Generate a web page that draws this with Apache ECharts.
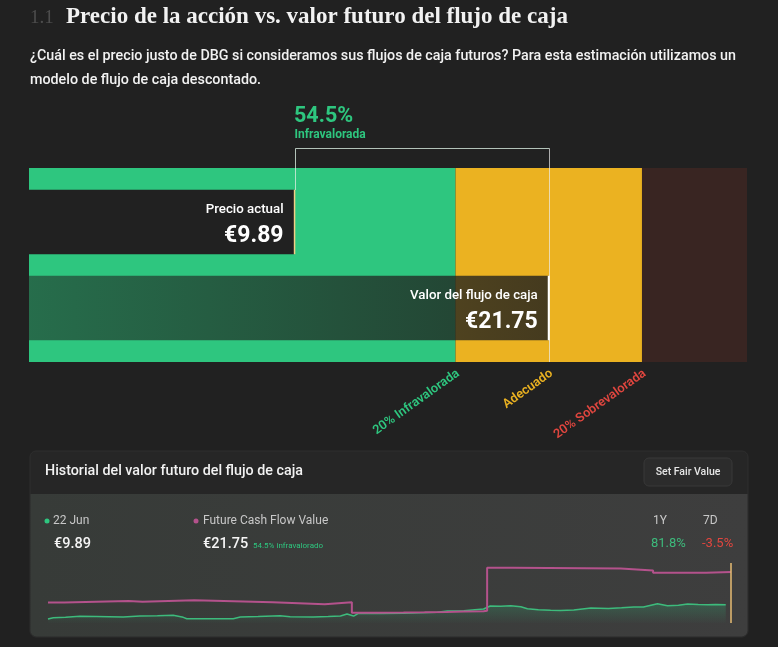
<!DOCTYPE html>
<html>
<head>
<meta charset="utf-8">
<script src="https://cdn.jsdelivr.net/npm/echarts@6/dist/echarts.min.js"></script>
<style>
html,body{margin:0;padding:0;background:#212121;}
#chart{width:778px;height:647px;}
</style>
</head>
<body>
<div id="chart"></div>
<script>
// ---- data ----
const categories = ['Precio actual', 'Valor del flujo de caja'];
const barValues = [9.89, 21.75];
const zoneBounds = [-2.5, 17.40, 26.10, 31.0];
const zoneEdges = [17.40, 21.75, 26.10];
const zoneLabels = ['20% Infravalorada', 'Adecuado', '20% Sobrevalorada'];
const discountPct = 54.5;
const return1Y = 81.8;
const return7D = -3.5;
const lastDate = '22 Jun';

const priceWeeks = [0, 1.2, 4, 7.3, 11, 14, 17.2, 21, 25, 28.6, 30.9, 31.7, 36, 42.3, 43.9, 48, 53, 55.3, 60.6, 64, 66.8, 68.3, 69.8, 70.9, 76, 81.2, 85, 88.9, 91.2, 95, 97.5, 99.5, 101, 103.4, 105.7, 108, 109.5, 112, 114.8, 117, 120.1, 124, 128, 131, 133.8, 136, 139.2, 141.5, 144, 146.1, 148.5, 150.7, 152.5, 154.8];
const priceValues = [4.65, 5.13, 5.35, 5.64, 5.55, 5.48, 5.38, 5.75, 5.85, 6.01, 5.27, 4.76, 4.80, 4.76, 5.38, 5.55, 5.86, 5.49, 5.38, 5.55, 5.75, 6.48, 5.75, 6.74, 6.70, 6.74, 6.95, 7.11, 7.58, 7.65, 8.05, 8.32, 9.45, 9.30, 9.52, 9.16, 8.43, 8.10, 7.84, 7.80, 7.95, 8.68, 8.55, 8.80, 9.05, 9.10, 10.26, 9.52, 9.70, 10.15, 9.95, 9.89, 10.00, 9.89];

const fcfWeeks = [0, 3.7, 18.4, 21.6, 33.4, 51.3, 63.2, 69.4, 75, 81.2, 86, 91, 95, 99.5, 100.3, 106.1, 130.8, 138.2, 150.3, 156];
const fcfValues = [10.70, 11.25, 10.99, 11.50, 10.77, 10.04, 10.77, 6.96, 7.02, 7.11, 7.25, 7.40, 7.55, 7.69, 23.44, 23.22, 22.49, 21.61, 21.87, 21.75];

// ---- colors ----
const GREEN = '#2ec67f';
const YELLOW = '#ebb221';
const BROWN = '#392522';
const RED = '#e0463f';
const PINK = '#b4528c';
const zoneColors = [GREEN, YELLOW, BROWN];
const labelColors = [GREEN, YELLOW, RED];
const SANS = 'Roboto, "Noto Sans", sans-serif';

const chart = echarts.init(document.getElementById('chart'), null, {renderer: 'canvas'});

const zoneData = zoneColors.map((c, i) => [zoneBounds[i], zoneBounds[i + 1], i]);
const barData = categories.map((c, i) => [barValues[i], i, c]);

const option = {
  backgroundColor: '#212121',
  animation: false,
  grid: [
    {left: 29, right: 31, top: 168, height: 194},
    {left: 29, right: 31, top: 179, height: 172},
    {left: 48, right: 47, top: 563, height: 60}
  ],
  xAxis: [
    {gridIndex: 0, type: 'value', min: zoneBounds[0], max: zoneBounds[3], show: false},
    {gridIndex: 1, type: 'value', min: zoneBounds[0], max: zoneBounds[3], show: false},
    {gridIndex: 2, type: 'value', min: 0, max: 156, show: false}
  ],
  yAxis: [
    {gridIndex: 0, type: 'value', min: 0, max: 1, show: false},
    {gridIndex: 1, type: 'category', data: categories, inverse: true, show: false},
    {gridIndex: 2, type: 'value', min: 3.2, max: 25.2, show: false}
  ],
  graphic: [
    // title
    {type: 'text', x: 30, y: 18, style: {text: '1.1', font: '19px "Liberation Serif", serif', fill: '#4d4d4d', verticalAlign: 'middle'}},
    {type: 'text', x: 66, y: 17, style: {text: 'Precio de la acción vs. valor futuro del flujo de caja', font: 'bold 23px "Liberation Serif", serif', fill: '#f2f2f2', verticalAlign: 'middle'}},
    {type: 'text', x: 30, y: 56, style: {text: '¿Cuál es el precio justo de DBG si consideramos sus flujos de caja futuros? Para esta estimación utilizamos un', font: '500 14.3px ' + SANS, fill: '#f2f2f2', verticalAlign: 'middle'}},
    {type: 'text', x: 30, y: 80, style: {text: 'modelo de flujo de caja descontado.', font: '500 14.3px ' + SANS, fill: '#f2f2f2', verticalAlign: 'middle'}},
    // panel
    {type: 'rect', shape: {x: 30, y: 451, width: 718, height: 186, r: 6}, style: {fill: '#262626', stroke: '#2e2e2e', lineWidth: 1}, z: -10},
    {type: 'rect', shape: {x: 30.5, y: 494, width: 717, height: 142.5, r: [0, 0, 6, 6]}, style: {fill: new echarts.graphic.LinearGradient(0, 0, 1, 0, [{offset: 0, color: '#373b38'}, {offset: 1, color: '#3e3e3e'}])}, z: -9},
    {type: 'text', x: 45, y: 471, style: {text: 'Historial del valor futuro del flujo de caja', font: '500 14.3px ' + SANS, fill: '#f2f2f2', verticalAlign: 'middle'}},
    {type: 'rect', shape: {x: 644, y: 458, width: 88, height: 28, r: 5}, style: {fill: '#2c2c2c', stroke: '#383838', lineWidth: 1}},
    {type: 'text', x: 688, y: 472, style: {text: 'Set Fair Value', font: '500 10.5px ' + SANS, fill: '#e6e6e6', align: 'center', verticalAlign: 'middle'}},
    // stats
    {type: 'circle', shape: {cx: 47, cy: 521, r: 2.5}, style: {fill: GREEN}},
    {type: 'text', x: 53, y: 521, style: {text: lastDate, font: '12px ' + SANS, fill: '#c8c8c8', verticalAlign: 'middle'}},
    {type: 'text', x: 54, y: 544, style: {text: '€' + barValues[0].toFixed(2), font: '500 14.5px ' + SANS, fill: '#f5f5f5', verticalAlign: 'middle'}},
    {type: 'circle', shape: {cx: 196, cy: 521, r: 2.5}, style: {fill: PINK}},
    {type: 'text', x: 203, y: 521, style: {text: 'Future Cash Flow Value', font: '12px ' + SANS, fill: '#c8c8c8', verticalAlign: 'middle'}},
    {type: 'text', x: 203, y: 544, style: {text: '€' + barValues[1].toFixed(2), font: '500 14.5px ' + SANS, fill: '#f5f5f5', verticalAlign: 'middle'}},
    {type: 'text', x: 253, y: 546, style: {text: discountPct + '% infravalorado', font: '8px ' + SANS, fill: GREEN, verticalAlign: 'middle'}},
    {type: 'text', x: 653, y: 521, style: {text: '1Y', font: '12px ' + SANS, fill: '#c8c8c8', verticalAlign: 'middle'}},
    {type: 'text', x: 703, y: 521, style: {text: '7D', font: '12px ' + SANS, fill: '#c8c8c8', verticalAlign: 'middle'}},
    {type: 'text', x: 651, y: 544, style: {text: return1Y + '%', font: '13px ' + SANS, fill: '#3dbb7c', verticalAlign: 'middle'}},
    {type: 'text', x: 702, y: 544, style: {text: return7D + '%', font: '13px ' + SANS, fill: RED, verticalAlign: 'middle'}}
  ],
  series: [
    // valuation zones
    {
      type: 'custom', xAxisIndex: 0, yAxisIndex: 0, z: 1,
      data: zoneData,
      renderItem: function (params, api) {
        const cs = params.coordSys;
        const x1 = api.coord([api.value(0), 0])[0];
        const x2 = api.coord([api.value(1), 0])[0];
        return {type: 'rect', shape: {x: x1, y: cs.y, width: x2 - x1, height: cs.height}, style: {fill: zoneColors[api.value(2)]}};
      }
    },
    // zone labels
    {
      type: 'custom', xAxisIndex: 0, yAxisIndex: 0, z: 2, clip: false,
      data: zoneEdges.map((e, i) => [e, i]),
      renderItem: function (params, api) {
        const cs = params.coordSys;
        const x = api.coord([api.value(0), 0])[0];
        const i = api.value(1);
        return {
          type: 'text', x: x - 1, y: cs.y + cs.height + 5, rotation: 35.5 * Math.PI / 180,
          style: {text: zoneLabels[i], font: '600 12.8px ' + SANS, fill: labelColors[i], align: 'right', verticalAlign: 'top'}
        };
      }
    },
    // bracket + percentage
    {
      type: 'custom', xAxisIndex: 0, yAxisIndex: 0, z: 3, clip: false,
      data: [[barValues[0], barValues[1], discountPct]],
      renderItem: function (params, api) {
        const cs = params.coordSys;
        const xa = Math.round(api.coord([api.value(0), 0])[0]) + 0.5;
        const xb = Math.round(api.coord([api.value(1), 0])[0]) + 0.5;
        const top = cs.y - 20 + 0.5;
        const st = {stroke: 'rgba(215,235,222,0.8)', lineWidth: 1};
        return {
          type: 'group', children: [
            {type: 'line', shape: {x1: xa, y1: top, x2: xb, y2: top}, style: st},
            {type: 'line', shape: {x1: xa, y1: top, x2: xa, y2: cs.y + 22}, style: st},
            {type: 'line', shape: {x1: xb, y1: top, x2: xb, y2: cs.y + cs.height}, style: {stroke: 'rgba(235,235,235,0.7)', lineWidth: 1}},
            {type: 'text', x: xa - 1.5, y: top - 32, style: {text: api.value(2) + '%', font: 'bold 21.5px ' + SANS, fill: GREEN, verticalAlign: 'middle'}},
            {type: 'text', x: xa - 1, y: top - 14, style: {text: 'Infravalorada', font: 'bold 12px ' + SANS, fill: GREEN, verticalAlign: 'middle'}}
          ]
        };
      }
    },
    // price & value bars
    {
      type: 'custom', xAxisIndex: 1, yAxisIndex: 1, z: 4,
      data: barData,
      renderItem: function (params, api) {
        const cs = params.coordSys;
        const v = api.value(0), idx = api.value(1);
        const p = api.coord([v, idx]);
        const h = api.size([0, 1])[1] * 0.75;
        const x0 = cs.x;
        const isPrice = idx === 0;
        const fill = isPrice ? '#212121' : new echarts.graphic.LinearGradient(0, 0, 1, 0, [
          {offset: 0, color: 'rgba(32,36,33,0.55)'},
          {offset: 1, color: 'rgba(32,32,30,0.82)'}
        ]);
        return {
          type: 'group', children: [
            {type: 'rect', shape: {x: x0, y: p[1] - h / 2, width: p[0] - x0, height: h}, style: {fill: fill}},
            {type: 'line', shape: {x1: p[0], y1: p[1] - h / 2, x2: p[0], y2: p[1] + h / 2}, style: {stroke: isPrice ? '#f1cf86' : '#ffffff', lineWidth: isPrice ? 1.5 : 2}},
            {type: 'text', x: p[0] - 11, y: p[1] - 12, style: {text: categories[idx], font: '500 13.3px ' + SANS, fill: '#ffffff', align: 'right', verticalAlign: 'middle'}},
            {type: 'text', x: p[0] - 11, y: p[1] + 14, style: {text: '€' + v.toFixed(2), font: 'bold 23px ' + SANS, fill: '#ffffff', align: 'right', verticalAlign: 'middle'}}
          ]
        };
      }
    },
    // sparkline: price
    {
      type: 'line', xAxisIndex: 2, yAxisIndex: 2, z: 3,
      data: priceWeeks.map((w, i) => [w, priceValues[i]]),
      showSymbol: false, symbol: 'none',
      lineStyle: {color: '#3dbb7c', width: 1.5},
      areaStyle: {color: new echarts.graphic.LinearGradient(0, 0, 0, 1, [
        {offset: 0, color: 'rgba(46,198,127,0.32)'},
        {offset: 1, color: 'rgba(46,198,127,0.02)'}
      ])},
      markLine: {
        symbol: 'none', silent: true, label: {show: false},
        lineStyle: {color: '#e7bd73', width: 1.5, type: 'solid'},
        data: [{xAxis: 156}]
      }
    },
    // sparkline: future cash flow value
    {
      type: 'line', xAxisIndex: 2, yAxisIndex: 2, z: 4, step: 'end',
      data: fcfWeeks.map((w, i) => [w, fcfValues[i]]),
      showSymbol: false, symbol: 'none',
      lineStyle: {color: PINK, width: 2}
    }
  ]
};
chart.setOption(option);
</script>
</body>
</html>
